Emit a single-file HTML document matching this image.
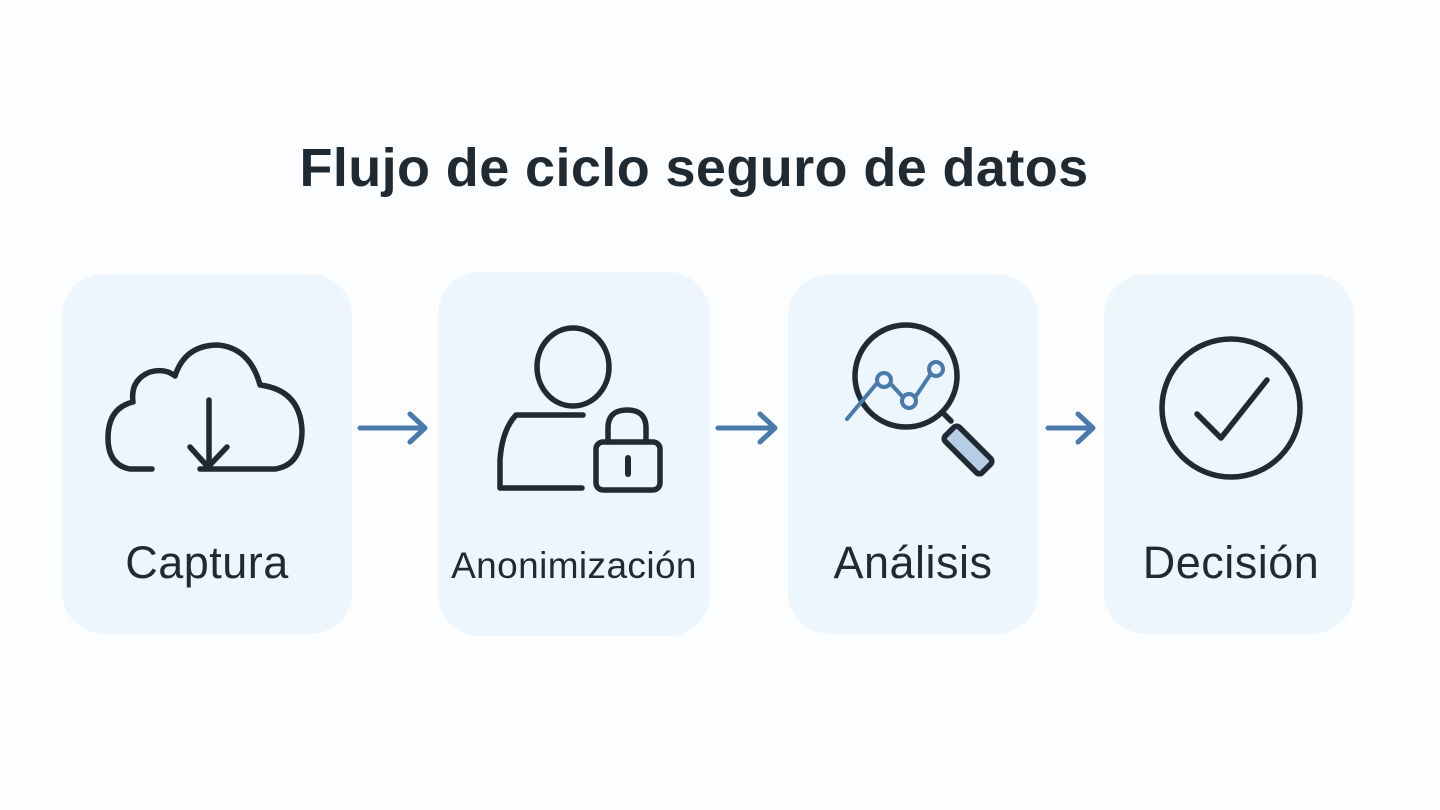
<!DOCTYPE html>
<html><head><meta charset="utf-8"><style>
body{margin:0;width:1440px;height:810px;background:#fcfdfe;font-family:"Liberation Sans",sans-serif;position:relative;overflow:hidden}
.card{position:absolute;background:#edf5fd;border-radius:42px}
.t{position:absolute;color:#1f2a33;white-space:nowrap;text-align:center}
</style></head><body>
<div class="t" style="left:0;width:1388px;top:137px;font-size:54px;font-weight:bold;letter-spacing:0.4px">Flujo de ciclo seguro de datos</div>
<div class="card" style="left:62px;top:274px;width:290px;height:360px"></div>
<div class="card" style="left:438px;top:272px;width:272px;height:364px"></div>
<div class="card" style="left:788px;top:274px;width:250px;height:360px"></div>
<div class="card" style="left:1104px;top:274px;width:250px;height:360px"></div>
<div class="t" style="left:62px;width:290px;top:537px;font-size:45px;letter-spacing:0.5px">Captura</div>
<div class="t" style="left:438px;width:272px;top:545px;font-size:37px;letter-spacing:0.4px">Anonimización</div>
<div class="t" style="left:788px;width:250px;top:537px;font-size:45px;letter-spacing:0.5px">Análisis</div>
<div class="t" style="left:1104px;width:254px;top:537px;font-size:45px;letter-spacing:0.5px">Decisión</div>
<svg width="1440" height="810" style="position:absolute;left:0;top:0" fill="none" stroke-linecap="round" stroke-linejoin="round">
<g stroke="#4a7aab" stroke-width="5">
<path d="M360 428H424M410 414L425 428L410 442"/>
<path d="M718 428H774M760 414L775 428L760 442"/>
<path d="M1048 428H1092M1078 414L1093 428L1078 442"/>
</g>
<g stroke="#1f2a33" stroke-width="5.5">
<path d="M152 469H130Q108 465 108 438Q108 408 133 402Q130 380 150 372Q165 368 175 376Q185 345 218 345Q250 348 260 385Q300 390 302 430Q302 465 275 469H200"/>
<path d="M209 400V465M190 447L208 467L227 447"/>
<ellipse cx="573" cy="367" rx="36" ry="39"/>
<path d="M583 415H516Q502 430 500 460V488H582"/>
<rect x="596" y="442" width="64" height="48" rx="7"/>
<path d="M608 442V428Q608 410 627 410Q646 410 646 428V442"/>
<path d="M628 458V474" stroke-width="6"/>
<circle cx="906" cy="376" r="51"/>
<path d="M942 412L951 421"/>
<rect x="958" y="424" width="20" height="52" rx="4" transform="rotate(-45 968 450)" fill="#b6cde6"/>
<circle cx="1231" cy="408" r="69"/>
<path d="M1197 414L1221 438L1267 380"/>
</g>
<g stroke="#4a7aab" stroke-width="4">
<path d="M847 419L878 382M889 382L902 396M916 396L930 375"/>
<circle cx="884" cy="380" r="7" fill="#edf5fd"/>
<circle cx="909" cy="401" r="7" fill="#edf5fd"/>
<circle cx="936" cy="369" r="7" fill="#edf5fd"/>
</g>
</svg>
</body></html>
